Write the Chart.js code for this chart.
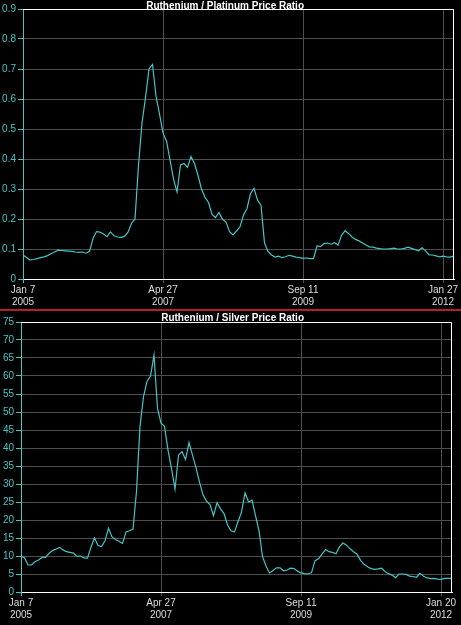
<!DOCTYPE html>
<html>
<head>
<meta charset="utf-8">
<script src="https://cdn.jsdelivr.net/npm/chart.js@4/dist/chart.umd.min.js"></script>
<style>
  html, body { margin: 0; padding: 0; background: #000; }
  #wrap { width: 461px; height: 625px; overflow: hidden; background: #000; }
  canvas { display: block; }
  .sep { height: 2px; background: #b82020; }
</style>
</head>
<body>
<div id="wrap">
  <canvas id="platChart" width="461" height="309"></canvas>
  <div class="sep"></div>
  <canvas id="silvChart" width="461" height="314"></canvas>
</div>
<script>
// weekly data, one sample every 3 weeks
const sampleStep = 3;
const tickWeeks = [0, 120, 240, 360];
const platTickLabels = [['Jan 7', '2005'], ['Apr 27', '2007'], ['Sep 11', '2009'], ['Jan 27', '2012']];
const silvTickLabels = [['Jan 7', '2005'], ['Apr 27', '2007'], ['Sep 11', '2009'], ['Jan 20', '2012']];

const platRatio = [
  0.080, 0.072, 0.063, 0.065, 0.068, 0.071, 0.074, 0.078, 0.084, 0.090,
  0.096, 0.095, 0.094, 0.093, 0.092, 0.090, 0.089, 0.090, 0.086, 0.092,
  0.135, 0.158, 0.156, 0.150, 0.141, 0.157, 0.144, 0.140, 0.139, 0.142,
  0.156, 0.186, 0.200, 0.380, 0.520, 0.605, 0.700, 0.715, 0.610, 0.550,
  0.487, 0.460, 0.397, 0.333, 0.290, 0.380, 0.385, 0.372, 0.408, 0.385,
  0.345, 0.300, 0.272, 0.255, 0.215, 0.205, 0.222, 0.199, 0.190, 0.158,
  0.147, 0.160, 0.174, 0.213, 0.235, 0.285, 0.302, 0.263, 0.245, 0.120,
  0.092, 0.080, 0.073, 0.076, 0.071, 0.074, 0.079, 0.076, 0.073, 0.071,
  0.069, 0.070, 0.068, 0.068, 0.110, 0.108, 0.118, 0.120, 0.116, 0.121,
  0.113, 0.145, 0.161, 0.152, 0.140, 0.132, 0.127, 0.120, 0.113, 0.107,
  0.106, 0.103, 0.101, 0.100, 0.100, 0.101, 0.103, 0.100, 0.100, 0.102,
  0.106, 0.102, 0.098, 0.094, 0.104, 0.094, 0.080, 0.080, 0.077, 0.074,
  0.076, 0.074, 0.073, 0.076
];

const silvRatio = [
  10.0, 9.5, 7.5, 7.5, 8.4, 8.9, 9.6, 9.6, 10.7, 11.5,
  11.9, 12.4, 11.7, 11.2, 11.0, 10.8, 9.9, 10.0, 9.5, 9.4,
  12.5, 15.0, 12.9, 12.6, 14.2, 17.7, 15.3, 14.6, 14.1, 13.5,
  16.7, 17.0, 17.5, 28.0, 46.0, 54.3, 58.5, 60.0, 65.8, 51.0,
  46.9, 46.0, 39.4, 34.3, 28.6, 38.0, 39.0, 36.8, 41.5, 38.0,
  34.5, 30.5, 27.0, 25.2, 24.3, 21.2, 24.8, 23.1, 21.8, 18.6,
  17.0, 16.7, 19.5, 22.2, 27.5, 25.0, 25.5, 21.2, 17.0, 9.8,
  7.2, 5.3, 6.0, 6.7, 6.7, 5.9, 6.1, 6.6, 6.5, 5.8,
  5.3, 5.1, 5.0, 5.4, 8.7, 9.2, 10.5, 11.8, 11.2, 11.0,
  10.6, 12.6, 13.6, 13.0, 12.0, 11.2, 10.5, 8.8, 7.7, 7.0,
  6.5, 6.3, 6.4, 6.6, 5.7, 5.1, 4.7, 4.0, 5.0, 5.0,
  4.9, 4.4, 4.3, 4.1, 5.2, 4.4, 3.9, 3.7, 3.8, 3.6,
  3.5, 3.8, 3.8, 3.8
];

const cyan = '#44c6c6';
const gridGrey = '#4e4e4e';
const fontFamily = '"Liberation Sans", Arial, sans-serif';

// white top/right border + title text
const framePlugin = {
  id: 'frame',
  afterDraw(chart, args, opts) {
    const ctx = chart.ctx;
    const a = chart.chartArea;
    const top = Math.round(a.top) + 0.5;
    const right = Math.round(a.right) - 0.5;
    ctx.save();
    ctx.strokeStyle = '#fff';
    ctx.lineWidth = 1;
    ctx.beginPath();
    ctx.moveTo(a.left, top);
    ctx.lineTo(right, top);
    ctx.lineTo(right, a.bottom);
    ctx.stroke();
    ctx.font = 'bold 10px ' + fontFamily;
    ctx.fillStyle = '#fff';
    ctx.textAlign = 'right';
    ctx.textBaseline = 'alphabetic';
    ctx.fillText(opts.text, opts.textRight, opts.baseline);
    ctx.restore();
  }
};

function makeChart(id, title, values, tickLabels, yMax, yStep, box) {
  const ctx = document.getElementById(id);
  return new Chart(ctx, {
    type: 'line',
    data: {
      datasets: [{
        data: values.map((v, i) => ({ x: i * sampleStep, y: v })),
        borderColor: cyan,
        borderWidth: 1.2,
        pointRadius: 0,
        tension: 0,
        fill: false
      }]
    },
    options: {
      responsive: false,
      animation: false,
      layout: { padding: { top: box.top, right: box.right, left: 0, bottom: 0 } },
      plugins: {
        legend: { display: false },
        tooltip: { enabled: false },
        frame: { text: title, textRight: 304, baseline: box.titleBase }
      },
      scales: {
        x: {
          type: 'linear',
          min: 0,
          max: 369.4,
          afterBuildTicks: s => { s.ticks = tickWeeks.map(v => ({ value: v })); },
          afterFit: s => { s.height = box.xHeight; },
          ticks: {
            autoSkip: false,
            maxRotation: 0,
            color: '#dcdcdc',
            padding: 2,
            font: { family: fontFamily, size: 10, lineHeight: 1.12 },
            callback: (v, i) => tickLabels[i]
          },
          grid: {
            color: c => c.index === 0 ? cyan : gridGrey,
            tickColor: c => c.index === 0 ? cyan : gridGrey,
            tickLength: 4
          },
          border: { color: '#fff' }
        },
        y: {
          min: 0,
          max: yMax,
          afterFit: s => { s.width = box.yWidth; },
          ticks: {
            stepSize: yStep,
            color: cyan,
            padding: 2,
            font: { family: fontFamily, size: 10 }
          },
          grid: { color: gridGrey, tickColor: cyan, tickLength: 5 },
          border: { color: cyan }
        }
      }
    },
    plugins: [framePlugin]
  });
}

makeChart('platChart', 'Ruthenium / Platinum Price Ratio', platRatio, platTickLabels, 0.9, 0.1,
  { top: 9, right: 7, yWidth: 23, xHeight: 30, titleBase: 8.5 });
makeChart('silvChart', 'Ruthenium / Silver Price Ratio', silvRatio, silvTickLabels, 75, 5,
  { top: 11, right: 9, yWidth: 21, xHeight: 33, titleBase: 9.5 });
</script>
</body>
</html>
